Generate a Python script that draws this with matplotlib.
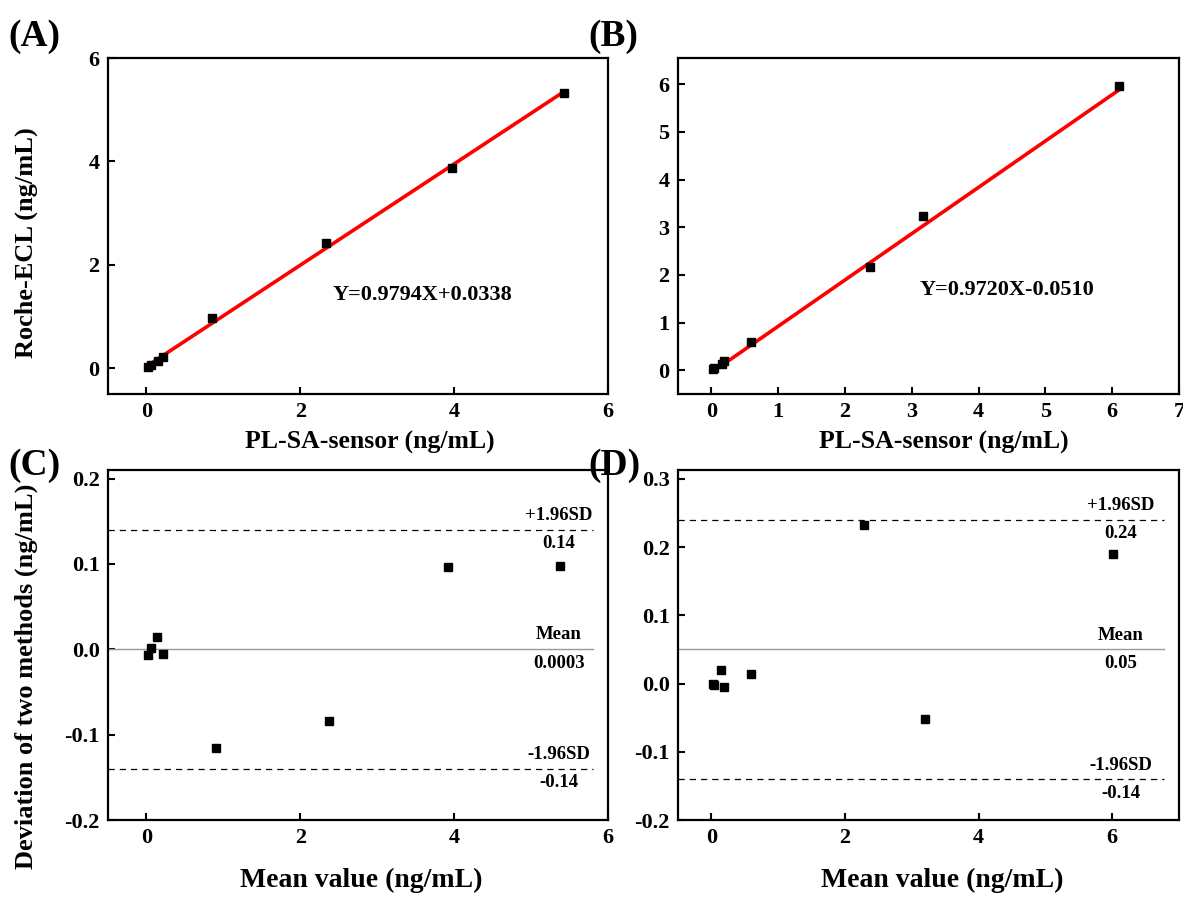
import numpy as np
import matplotlib
matplotlib.use("Agg")
import matplotlib.pyplot as plt

plt.rcParams['font.family'] = ['Liberation Serif', 'DejaVu Serif']
plt.rcParams['font.weight'] = 'bold'

# (A) PL-SA-sensor vs Roche-ECL
a_x = [0.022, 0.062, 0.146, 0.214, 0.852, 2.328, 3.968, 5.429]
a_y = [0.030, 0.060, 0.132, 0.220, 0.968, 2.412, 3.872, 5.331]
a_slope, a_icpt = 0.9794, 0.0338

# (B)
b_x = [0.020, 0.044, 0.155, 0.191, 0.600, 2.380, 3.174, 6.106]
b_y = [0.020, 0.046, 0.135, 0.197, 0.586, 2.160, 3.226, 5.960]
b_slope, b_icpt = 0.9720, -0.0510

# (C) Bland-Altman for A
c_mean = [0.026, 0.061, 0.139, 0.217, 0.91, 2.37, 3.92, 5.38]
c_dev = [-0.007, 0.002, 0.014, -0.005, -0.116, -0.084, 0.096, 0.098]
c_lines = [0.14, 0.0003, -0.14]
c_texts = [("+1.96SD", "0.14"), ("Mean", "0.0003"), ("-1.96SD", "-0.14")]

# (D) Bland-Altman for B
d_mean = [0.020, 0.045, 0.145, 0.194, 0.593, 2.29, 3.20, 6.01]
d_dev = [0.000, -0.002, 0.0205, -0.0055, 0.0135, 0.232, -0.052, 0.19]
d_lines = [0.24, 0.05, -0.14]
d_texts = [("+1.96SD", "0.24"), ("Mean", "0.05"), ("-1.96SD", "-0.14")]

W, H = 1183, 900
fig = plt.figure(figsize=(W / 100, H / 100), dpi=100)


def box(l, t, r, b):
    return [l / W, 1 - b / H, (r - l) / W, (b - t) / H]


def style(ax):
    for s in ax.spines.values():
        s.set_linewidth(1.6)
    ax.tick_params(direction='in', length=5, width=1.5, labelsize=16,
                   top=False, right=False, pad=6)


axA = fig.add_axes(box(108, 58, 608, 394))
axB = fig.add_axes(box(678, 58, 1179, 394))
axC = fig.add_axes(box(108, 470, 608, 820))
axD = fig.add_axes(box(678, 470, 1179, 820))

# regression panels
for ax, x, y, k, c, txt, tpos in [
        (axA, a_x, a_y, a_slope, a_icpt, "Y=0.9794X+0.0338", (2.42, 1.41)),
        (axB, b_x, b_y, b_slope, b_icpt, "Y=0.9720X-0.0510", (3.12, 1.68))]:
    xx = np.array([min(x), max(x)])
    ax.plot(xx, k * xx + c, color='red', lw=2.6, zorder=2)
    ax.plot(x, y, 's', color='black', ms=5.8, zorder=3)
    ax.text(tpos[0], tpos[1], txt, fontsize=16, fontweight='bold',
            ha='left', va='center')
    style(ax)

axA.set_xlim(-0.5, 6)
axA.set_ylim(-0.5, 6)
axA.set_xticks([0, 2, 4, 6])
axA.set_yticks([0, 2, 4, 6])
axB.set_xlim(-0.5, 7)
axB.set_ylim(-0.5, 6.55)
axB.set_xticks(range(0, 8))
axB.set_yticks(range(0, 7))

axA.set_ylabel("Roche-ECL (ng/mL)", fontsize=19, fontweight='bold')
axA.yaxis.set_label_coords(-0.14, 0.45)
axA.set_xlabel("PL-SA-sensor (ng/mL)", fontsize=18.5, fontweight='bold')
axA.xaxis.set_label_coords(0.524, -0.11)
axB.set_xlabel("PL-SA-sensor (ng/mL)", fontsize=18.5, fontweight='bold')
axB.xaxis.set_label_coords(0.53, -0.11)

# Bland-Altman panels
for ax, m, d, lines, texts, xend, tx in [
        (axC, c_mean, c_dev, c_lines, c_texts, 5.8, 5.36),
        (axD, d_mean, d_dev, d_lines, d_texts, 6.77, 6.13)]:
    ax.plot(m, d, 's', color='black', ms=6, zorder=3)
    for i, v in enumerate(lines):
        if i == 1:
            ax.plot([-0.5, xend], [v, v], color='#999999', lw=1.0)
        else:
            ax.plot([-0.5, xend], [v, v], color='black', lw=0.9,
                    dashes=(5, 4))
        ax.annotate(texts[i][0], (tx, v), xytext=(0, 4),
                    textcoords='offset points', ha='center', va='bottom',
                    fontsize=13.5, fontweight='bold')
        ax.annotate(texts[i][1], (tx, v), xytext=(0, -4),
                    textcoords='offset points', ha='center', va='top',
                    fontsize=13.5, fontweight='bold')
    style(ax)

axC.set_xlim(-0.5, 6)
axC.set_ylim(-0.2, 0.21)
axC.set_xticks([0, 2, 4, 6])
axC.set_yticks([-0.2, -0.1, 0.0, 0.1, 0.2])
axC.set_yticklabels(["-0.2", "-0.1", "0.0", "0.1", "0.2"])
axD.set_xlim(-0.5, 7)
axD.set_ylim(-0.2, 0.313)
axD.set_xticks([0, 2, 4, 6])
axD.set_yticks([-0.2, -0.1, 0.0, 0.1, 0.2, 0.3])
axD.set_yticklabels(["-0.2", "-0.1", "0.0", "0.1", "0.2", "0.3"])

for ax in (axA, axB, axC, axD):
    for lab in ax.get_xticklabels() + ax.get_yticklabels():
        lab.set_fontweight('bold')
        lab.set_fontsize(16)

axC.set_ylabel("Deviation of two methods (ng/mL)", fontsize=19,
               fontweight='bold')
axC.yaxis.set_label_coords(-0.14, 0.41)
axC.set_xlabel("Mean value (ng/mL)", fontsize=20, fontweight='bold')
axC.xaxis.set_label_coords(0.506, -0.136)
axD.set_xlabel("Mean value (ng/mL)", fontsize=20, fontweight='bold')
axD.xaxis.set_label_coords(0.527, -0.136)

# panel letters
for lab, px, py in [("(A)", 8, 37), ("(B)", 588, 37),
                    ("(C)", 8, 465), ("(D)", 588, 465)]:
    fig.text(px / W, 1 - py / H, lab, fontsize=27, fontweight='bold',
             ha='left', va='center')

fig.savefig("out.png", dpi=100)
